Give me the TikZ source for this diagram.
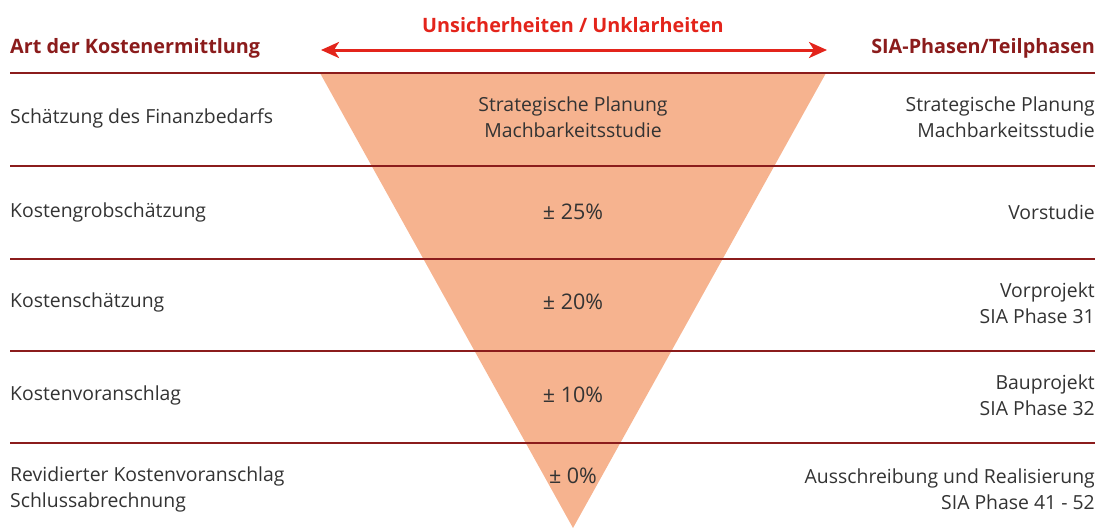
\documentclass[tikz,border=0pt]{standalone}
\usepackage{fontspec}
\setmainfont{Open Sans}
\usetikzlibrary{arrows.meta}
\definecolor{dred}{HTML}{8B1C1C}
\definecolor{bred}{HTML}{E3241B}
\definecolor{salmon}{HTML}{F6B38F}
\definecolor{txt}{HTML}{333333}
\tikzset{
  body/.style={font=\fontsize{19.4}{26}\selectfont, text=txt, inner sep=0pt, align=#1},
  body/.default=left,
  pct/.style={font=\fontsize{21.5}{26}\selectfont, text=txt, inner sep=0pt},
  head/.style={font=\fontsize{19.8}{26}\selectfont\bfseries, text=dred, inner sep=0pt},
  rule/.style={draw=dred, line width=1.3pt},
}
\begin{document}
\begin{tikzpicture}[x=1pt,y=-1pt]
\useasboundingbox (0,0) rectangle (1102,528);
% triangle
\coordinate (tl) at (320,73);
\coordinate (tr) at (826,73);
\coordinate (ap) at (573,528);
\fill[salmon] (tl) -- (tr) -- (ap) -- cycle;
% rules
\foreach \y/\n in {73/r0,166/r1,259/r2,351/r3,443/r4}{
  \coordinate (\n a) at (10,\y);
  \coordinate (\n b) at (1095,\y);
  \draw[rule] (\n a) -- (\n b);
}
% arrow
\coordinate (al) at (321,50);
\coordinate (ar) at (827,50);
\draw[bred, line width=3pt, {Stealth[length=18pt,width=16pt,inset=5pt]}-{Stealth[length=18pt,width=16pt,inset=5pt]}] (al) -- (ar);
\node[head, text=bred] (title) at (573,25) {Unsicherheiten / Unklarheiten};
\node[head, anchor=west] (hl) at (10,48) {Art der Kostenermittlung};
\node[head, anchor=east] (hr) at (1095,48) {SIA-Phasen/Teilphasen};
% left column
\node[body, anchor=west] (l1) at (10,118) {Schätzung des Finanzbedarfs};
\node[body, anchor=west] (l2) at (10,212) {Kostengrobschätzung};
\node[body, anchor=west] (l3) at (10,302) {Kostenschätzung};
\node[body, anchor=west] (l4) at (10,395) {Kostenvoranschlag};
\node[body, anchor=west] (l5) at (10,489) {Revidierter Kostenvoranschlag\\Schlussabrechnung};
% center
\node[body=center] (c1) at (573,117) {Strategische Planung\\Machbarkeitsstudie};
\node[pct] (c2) at (573,212) {± 25\%};
\node[pct] (c3) at (573,302) {± 20\%};
\node[pct] (c4) at (573,395) {± 10\%};
\node[pct] (c5) at (573,476) {± 0\%};
% right
\node[body=right, anchor=east] (r1) at (1095,117) {Strategische Planung\\Machbarkeitsstudie};
\node[body=right, anchor=east] (r2) at (1095,212) {Vorstudie};
\node[body=right, anchor=east] (r3) at (1095,303) {Vorprojekt\\SIA Phase 31};
\node[body=right, anchor=east] (r4) at (1095,395) {Bauprojekt\\SIA Phase 32};
\node[body=right, anchor=east] (r5) at (1095,489) {Ausschreibung und Realisierung\\SIA Phase 41 - 52};
\end{tikzpicture}
\end{document}
